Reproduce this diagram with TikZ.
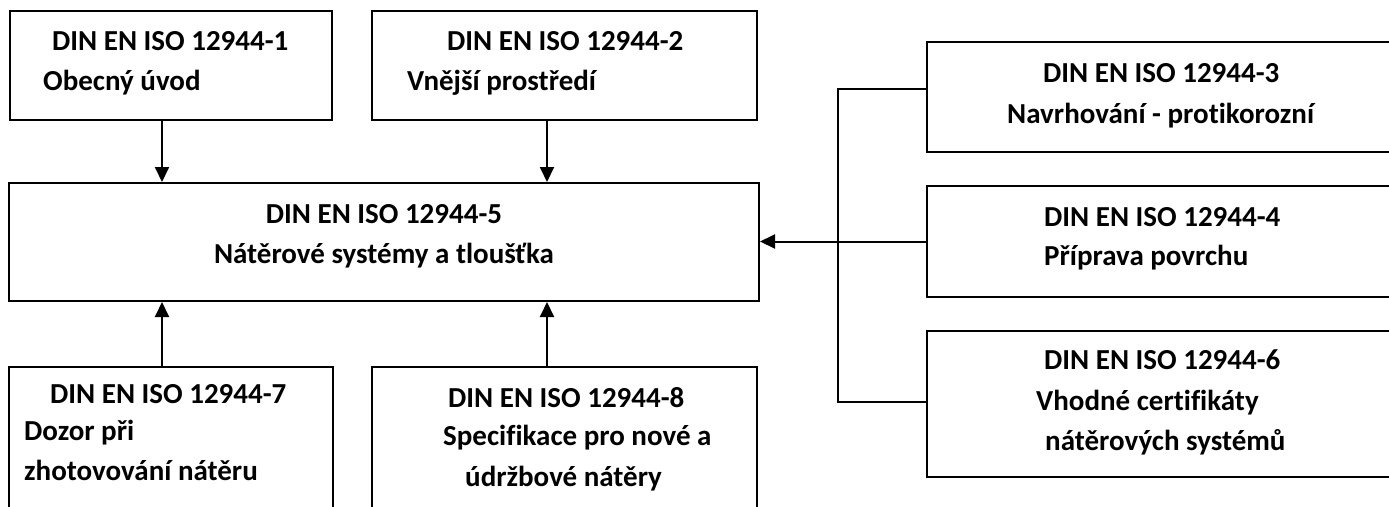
\documentclass[tikz,border=0pt]{standalone}
\usepackage{fontspec}
\setmainfont{Carlito}[RawFeature=-liga]
\usetikzlibrary{arrows.meta}
\begin{document}
\begin{tikzpicture}[x=1pt,y=-1pt,
  box/.style={draw=black,line width=2pt,rectangle,inner sep=0pt},
  txt/.style={font=\fontsize{29}{34}\selectfont\bfseries,inner sep=0pt},
  conn/.style={line width=2pt},
  arr/.style={line width=2pt,-{Triangle[length=15pt,width=14pt]}}]
\useasboundingbox (0,0) rectangle (1389,506);
% boxes
\node[box,minimum width=322pt,minimum height=109pt] (b1) at (171,65.5) {};
\node[box,minimum width=385pt,minimum height=109pt] (b2) at (564.5,65.5) {};
\node[box,minimum width=750pt,minimum height=118pt] (b5) at (384,242) {};
\node[box,minimum width=324pt,minimum height=160pt] (b7) at (171,447) {};
\node[box,minimum width=385pt,minimum height=160pt] (b8) at (564.5,447) {};
\node[box,minimum width=480pt,minimum height=110pt] (b3) at (1167,97) {};
\node[box,minimum width=480pt,minimum height=111pt] (b4) at (1167,241.5) {};
\node[box,minimum width=480pt,minimum height=146pt] (b6) at (1167,404) {};
% texts
\node[txt,anchor=base west] (t1a) at (52,50) {DIN EN ISO 12944-1};
\node[txt,anchor=base west] (t1b) at (43,90) {Obecný úvod};
\node[txt,anchor=base west] (t2a) at (447,50) {DIN EN ISO 12944-2};
\node[txt,anchor=base west] (t2b) at (407,90) {Vnější prostředí};
\node[txt,anchor=base] (t5a) at (384,223) {DIN EN ISO 12944-5};
\node[txt,anchor=base] (t5b) at (384,263) {Nátěrové systémy a tloušťka};
\node[txt,anchor=base west] (t3a) at (1043,82) {DIN EN ISO 12944-3};
\node[txt,anchor=base west] (t3b) at (1007,123) {Navrhování - protikorozní};
\node[txt,anchor=base west] (t4a) at (1044,226) {DIN EN ISO 12944-4};
\node[txt,anchor=base west] (t4b) at (1044,265) {Příprava povrchu};
\node[txt,anchor=base west] (t6a) at (1044,369) {DIN EN ISO 12944-6};
\node[txt,anchor=base west] (t6b) at (1036,410) {Vhodné certifikáty};
\node[txt,anchor=base west] (t6c) at (1045,450) {nátěrových systémů};
\node[txt,anchor=base west] (t7a) at (50,403) {DIN EN ISO 12944-7};
\node[txt,anchor=base west] (t7b) at (24,440) {Dozor při};
\node[txt,anchor=base west] (t7c) at (24,480) {zhotovování nátěru};
\node[txt,anchor=base west] (t8a) at (448,407) {DIN EN ISO 12944-8};
\node[txt,anchor=base west] (t8b) at (443,445) {Specifikace pro nové a};
\node[txt,anchor=base west] (t8c) at (465,486) {údržbové nátěry};
% connector coordinates
\coordinate (xa) at (162,0);
\coordinate (xb) at (547,0);
\coordinate (j1) at (838,89);
\coordinate (j2) at (838,402);
% arrows
\draw[arr] (b1.south -| xa) -- (b5.north -| xa);
\draw[arr] (b2.south -| xb) -- (b5.north -| xb);
\draw[arr] (b7.north -| xa) -- (b5.south -| xa);
\draw[arr] (b8.north -| xb) -- (b5.south -| xb);
\draw[arr] (b4.west) -- (b4.west -| b5.east);
\draw[conn] (b3.west |- j1) -- (j1) -- (j2) -- (b6.west |- j2);
\end{tikzpicture}
\end{document}
